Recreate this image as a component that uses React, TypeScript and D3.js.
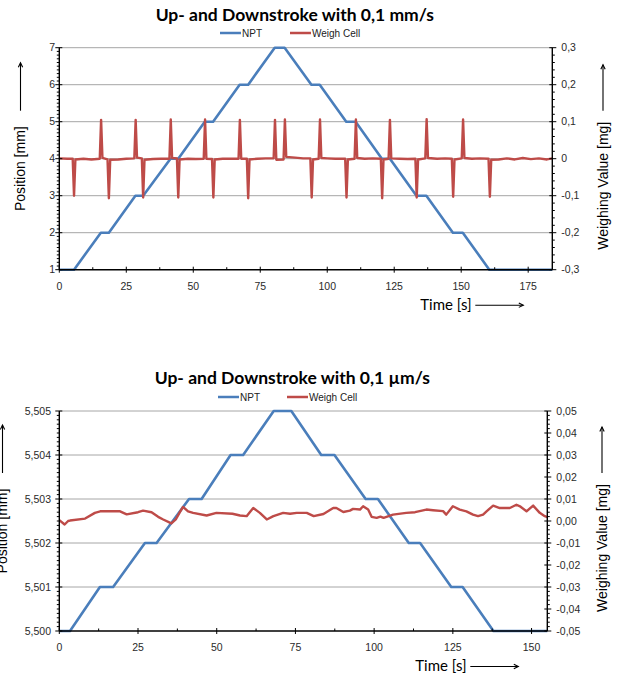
import React from "react";
import * as d3 from "d3";

// ---------- chart 1: 0,1 mm/s ----------
const npt1Time = [0, 5.5, 15.5, 18.5, 28.4, 31.3, 41.5, 44.4, 54.3, 57.4, 67.3, 70.5, 80.4, 84.1, 94.1, 97.2, 107.1, 110.6, 120.4, 123.4, 133.3, 137, 146.9, 150.6, 160.5, 184];
const npt1Pos = [1, 1, 2, 2, 3, 3, 4, 4, 5, 5, 6, 6, 7, 7, 6, 6, 5, 5, 4, 4, 3, 3, 2, 2, 1, 1];

// [time s, weighing value mg]
const weigh1: [number, number][] = [
  [0, 0.001], [3, 0.0], [5.0, 0.0], [5.5, -0.1], [6.0, -0.002], [9, 0.0], [12, -0.002],
  [15.1, 0.0], [15.6, 0.105], [16.1, 0.002], [18.0, -0.002], [18.5, -0.107], [19.0, -0.003],
  [22, -0.002], [25, 0], [28.0, 0.001], [28.5, 0.105], [29.0, 0.003], [30.8, 0.001],
  [31.3, -0.105], [31.8, -0.003], [35, -0.001], [38, 0], [41.1, 0.0], [41.6, 0.106],
  [42.1, 0.002], [43.9, 0.001], [44.4, -0.105], [44.9, -0.002], [48, 0], [51, -0.001],
  [53.9, 0], [54.4, 0.106], [54.9, 0.0], [57.0, -0.001], [57.5, -0.105], [58.0, -0.002],
  [61, 0], [64, 0.0], [66.9, 0.0], [67.4, 0.105], [67.9, 0.0], [70.0, 0], [70.5, -0.107],
  [71.0, -0.002], [74, 0], [77, 0.001], [80.0, 0.001], [80.5, 0.105], [81.0, -0.003],
  [83.7, -0.002], [84.2, 0.106], [84.7, 0.005], [88, 0.003], [91, 0.001], [93.7, 0.001],
  [94.2, -0.105], [94.7, -0.002], [96.8, 0], [97.3, 0.106], [97.8, 0.002], [100, 0.001],
  [103, 0.0], [106.7, 0.0], [107.2, -0.105], [107.7, -0.002], [110.2, 0], [110.7, 0.106],
  [111.2, 0.002], [114, 0], [117, 0.001], [120.0, 0], [120.5, -0.107], [121.0, -0.002],
  [122.9, 0.0], [123.4, 0.105], [123.9, 0.001], [127, 0.0], [130, -0.001], [132.9, 0],
  [133.4, -0.105], [133.9, -0.002], [136.6, 0.001], [137.1, 0.107], [137.6, 0.002],
  [141, 0], [144, 0.001], [146.5, 0], [147.0, -0.103], [147.5, -0.002], [150.2, 0.001],
  [150.7, 0.106], [151.2, 0.002], [154, 0.0], [157, 0.001], [160.2, 0], [160.7, -0.103],
  [161.2, -0.003], [164, -0.002], [167, 0.001], [170, -0.002], [173, 0.002], [176, -0.001],
  [179, 0.001], [182, -0.002], [184, 0.001],
];

const timeTicks1 = [0, 25, 50, 75, 100, 125, 150, 175];
const posTicks1 = [1, 2, 3, 4, 5, 6, 7];
const weighTicks1 = [-0.3, -0.2, -0.1, 0, 0.1, 0.2, 0.3];

// ---------- chart 2: 0,1 µm/s ----------
const npt2Time = [0, 3.4, 12.9, 17.1, 27.2, 30.9, 41.2, 45.2, 54.4, 58.4, 68.1, 73.7, 83.2, 87.4, 97.3, 101.2, 111, 114.6, 124.5, 128.1, 137.9, 155];
const npt2Pos = [5.5, 5.5, 5.501, 5.501, 5.502, 5.502, 5.503, 5.503, 5.504, 5.504, 5.505, 5.505, 5.504, 5.504, 5.503, 5.503, 5.502, 5.502, 5.501, 5.501, 5.5, 5.5];

const weigh2: [number, number][] = [
  [0, 0.0004], [1.7, -0.0016], [2.8, 0.0], [3.4, 0.0002], [8.2, 0.0011], [11.3, 0.0037],
  [13, 0.0044], [19.3, 0.0044], [21.4, 0.003], [25, 0.004], [26.6, 0.0047], [29.3, 0.004],
  [31.4, 0.0019], [33, 0.0007], [35.6, -0.0011], [37, 0.0007], [38.3, 0.004], [39.3, 0.0064],
  [40.9, 0.0044], [42.5, 0.0037], [46.8, 0.0025], [49.9, 0.0037], [55, 0.0033], [57.4, 0.0025],
  [59.5, 0.0022], [60.5, 0.004], [61.6, 0.0059], [63.7, 0.0037], [65.9, 0.0007], [68, 0.0022],
  [71.1, 0.0037], [73.3, 0.0033], [75.4, 0.0037], [78.6, 0.0037], [80.8, 0.0022], [83.9, 0.0032],
  [87, 0.0059], [88, 0.0059], [90.2, 0.0041], [92.3, 0.0047], [93.3, 0.0055], [95.5, 0.0052],
  [96.5, 0.0067], [98.1, 0.0052], [99.2, 0.0019], [100.8, 0.0014], [102, 0.002], [103, 0.0014],
  [106, 0.0029], [110.2, 0.0037], [113, 0.004], [116.6, 0.0052], [118.7, 0.0049], [121.9, 0.0045],
  [122.9, 0.0029], [125, 0.0067], [127.2, 0.0052], [129.3, 0.0044], [131.4, 0.0029], [133, 0.0022],
  [134.6, 0.0029], [135.7, 0.0044], [137.8, 0.007], [139.9, 0.0059], [143.1, 0.0059], [145.2, 0.0074],
  [146.5, 0.0065], [148.4, 0.0044], [150.5, 0.007], [152.6, 0.0037], [154.2, 0.0022], [155, 0.0018],
];

const timeTicks2 = [0, 25, 50, 75, 100, 125, 150];
const posTicks2 = [5.5, 5.501, 5.502, 5.503, 5.504, 5.505];
const weighTicks2 = [-0.05, -0.04, -0.03, -0.02, -0.01, 0, 0.01, 0.02, 0.03, 0.04, 0.05];

const BLUE = "#4A7EBB";
const RED = "#BE4B48";
const ARIAL = "'Liberation Sans', Arial, sans-serif";
const CALIBRI = "Lato, 'Open Sans', sans-serif";

const locale = d3.formatLocale({ decimal: ",", thousands: ".", grouping: [3], currency: ["", ""], minus: "-" });

type ChartProps = {
  title: string;
  titleY: number;
  legendY: number;
  legendX: [number, number];
  left: number;
  right: number;
  top: number;
  bottom: number;
  xMax: number;
  timeTicks: number[];
  nptTime: number[];
  nptPos: number[];
  weigh: [number, number][];
  posTicks: number[];
  weighTicks: number[];
  posMinor: number;
  weighMinor: number;
  posFmt: (v: number) => string;
  weighFmt: (v: number) => string;
  posLabelX: number;
  weighLabelX: number;
  posAxisX: number;
};

function Arrow({ x1, y1, x2, y2 }: { x1: number; y1: number; x2: number; y2: number }) {
  const a = Math.atan2(y2 - y1, x2 - x1);
  const h = 5;
  const p1 = [x2 - h * Math.cos(a - 0.45), y2 - h * Math.sin(a - 0.45)];
  const p2 = [x2 - h * Math.cos(a + 0.45), y2 - h * Math.sin(a + 0.45)];
  return (
    <g stroke="#000" strokeWidth={1.1} fill="none">
      <line x1={x1} y1={y1} x2={x2} y2={y2} />
      <polyline points={`${p1[0]},${p1[1]} ${x2},${y2} ${p2[0]},${p2[1]}`} />
    </g>
  );
}

function Chart(p: ChartProps) {
  const x = d3.scaleLinear().domain([0, p.xMax]).range([p.left, p.right]);
  const yL = d3.scaleLinear().domain(d3.extent(p.posTicks) as [number, number]).range([p.bottom, p.top]);
  const yR = d3.scaleLinear().domain(d3.extent(p.weighTicks) as [number, number]).range([p.bottom, p.top]);

  const nptLine = d3.line<number>().x((_, i) => x(p.nptTime[i])).y((d) => yL(d));
  const weighLine = d3.line<[number, number]>().x((d) => x(d[0])).y((d) => yR(d[1]));

  const posStep = p.posTicks[1] - p.posTicks[0];
  const posMinorTicks: number[] = [];
  for (let i = 0; i < p.posTicks.length - 1; i++)
    for (let k = 1; k < p.posMinor; k++) posMinorTicks.push(p.posTicks[i] + (posStep * k) / p.posMinor);
  const wStep = p.weighTicks[1] - p.weighTicks[0];
  const wMinorTicks: number[] = [];
  for (let i = 0; i < p.weighTicks.length - 1; i++)
    for (let k = 1; k < p.weighMinor; k++) wMinorTicks.push(p.weighTicks[i] + (wStep * k) / p.weighMinor);
  const tStep = p.timeTicks[1] - p.timeTicks[0];
  const tMinor = p.timeTicks.map((t) => t + tStep / 2).filter((t) => t < p.xMax);

  const midY = (p.top + p.bottom) / 2;

  return (
    <g>
      <text x={(p.left + p.right) / 2 - 11} y={p.titleY} textAnchor="middle" fontFamily={CALIBRI} fontWeight="bold" fontSize={17.5}>
        {p.title}
      </text>
      {/* legend */}
      <g fontFamily={ARIAL} fontSize={10} fill="#222">
        <line x1={p.legendX[0]} x2={p.legendX[0] + 21} y1={p.legendY} y2={p.legendY} stroke={BLUE} strokeWidth={2.5} />
        <text x={p.legendX[0] + 22} y={p.legendY + 3.5}>NPT</text>
        <line x1={p.legendX[1]} x2={p.legendX[1] + 21} y1={p.legendY} y2={p.legendY} stroke={RED} strokeWidth={2.5} />
        <text x={p.legendX[1] + 22} y={p.legendY + 3.5}>Weigh Cell</text>
      </g>

      {/* grid */}
      {p.posTicks.slice(1).map((v) => (
        <line key={v} x1={p.left} x2={p.right} y1={yL(v)} y2={yL(v)} stroke="#A6A6A6" strokeWidth={1} />
      ))}

      {/* series */}
      <path d={nptLine(p.nptPos) || ""} fill="none" stroke={BLUE} strokeWidth={2.6} strokeLinejoin="round" />
      <path d={weighLine(p.weigh) || ""} fill="none" stroke={RED} strokeWidth={2.4} strokeLinejoin="round" />

      {/* axes */}
      <g stroke="#000" strokeWidth={1}>
        <line x1={p.left} x2={p.left} y1={p.top} y2={p.bottom} strokeWidth={1.4} />
        <line x1={p.right} x2={p.right} y1={p.top} y2={p.bottom} strokeWidth={1.4} />
        <line x1={p.left} x2={p.right} y1={p.bottom} y2={p.bottom} strokeWidth={1.4} />
        {p.posTicks.map((v) => (
          <line key={"pl" + v} x1={p.left - 4} x2={p.left + 3} y1={yL(v)} y2={yL(v)} />
        ))}
        {posMinorTicks.map((v) => (
          <line key={"pm" + v} x1={p.left - 2.5} x2={p.left} y1={yL(v)} y2={yL(v)} />
        ))}
        {p.weighTicks.map((v) => (
          <line key={"wl" + v} x1={p.right - 3} x2={p.right + 4} y1={yR(v)} y2={yR(v)} />
        ))}
        {wMinorTicks.map((v) => (
          <line key={"wm" + v} x1={p.right} x2={p.right + 2.5} y1={yR(v)} y2={yR(v)} />
        ))}
        {p.timeTicks.map((t) => (
          <line key={"t" + t} x1={x(t)} x2={x(t)} y1={p.bottom - 3} y2={p.bottom + 3} />
        ))}
        {tMinor.map((t) => (
          <line key={"tm" + t} x1={x(t)} x2={x(t)} y1={p.bottom - 2.5} y2={p.bottom} />
        ))}
      </g>

      {/* tick labels */}
      <g fontFamily={ARIAL} fontSize={10.5} fill="#2a2a2a">
        {p.posTicks.map((v) => (
          <text key={"plt" + v} x={p.posAxisX} y={yL(v) + 3.7} textAnchor="end">
            {p.posFmt(v)}
          </text>
        ))}
        {p.weighTicks.map((v) => (
          <text key={"wlt" + v} x={p.right + 9} y={yR(v) + 3.7}>
            {p.weighFmt(v)}
          </text>
        ))}
        {p.timeTicks.map((t) => (
          <text key={"tlt" + t} x={x(t)} y={p.bottom + 20} textAnchor="middle">
            {t}
          </text>
        ))}
      </g>

      {/* axis titles */}
      <text
        transform={`translate(${p.posLabelX},${midY + 10}) rotate(-90)`}
        textAnchor="middle"
        fontFamily={ARIAL}
        fontSize={14}
      >
        Position [mm]
      </text>
      <Arrow x1={p.posLabelX - 4.5} y1={midY - 48} x2={p.posLabelX - 4.5} y2={midY - 96} />
      <text
        transform={`translate(${p.weighLabelX},${midY + 27}) rotate(-90)`}
        textAnchor="middle"
        fontFamily={ARIAL}
        fontSize={14}
      >
        Weighing Value [mg]
      </text>
      <Arrow x1={p.weighLabelX - 5} y1={midY - 48} x2={p.weighLabelX - 5} y2={midY - 94} />
      <text x={p.right - 132} y={p.bottom + 40} fontFamily={CALIBRI} fontSize={15}>
        Time [s]
      </text>
      <Arrow x1={p.right - 77} y1={p.bottom + 35.5} x2={p.right - 29} y2={p.bottom + 35.5} />
    </g>
  );
}

export default function App() {
  return (
    <svg width={618} height={677} style={{ position: "absolute", left: 0, top: 0, background: "#fff" }}>
      <Chart
        title="Up- and Downstroke with 0,1 mm/s"
        titleY={21}
        legendY={33}
        legendX={[220, 290]}
        left={59.3}
        right={552.3}
        top={47.7}
        bottom={269.7}
        xMax={184}
        timeTicks={timeTicks1}
        nptTime={npt1Time}
        nptPos={npt1Pos}
        weigh={weigh1}
        posTicks={posTicks1}
        weighTicks={weighTicks1}
        posMinor={10}
        weighMinor={5}
        posFmt={(v) => String(v)}
        weighFmt={(v) => (v === 0 ? "0" : locale.format(".1f")(v))}
        posLabelX={25}
        weighLabelX={608}
        posAxisX={55}
      />
      <Chart
        title="Up- and Downstroke with 0,1 µm/s"
        titleY={384}
        legendY={397}
        legendX={[218, 287]}
        left={59.3}
        right={547.3}
        top={411}
        bottom={631}
        xMax={155}
        timeTicks={timeTicks2}
        nptTime={npt2Time}
        nptPos={npt2Pos}
        weigh={weigh2}
        posTicks={posTicks2}
        weighTicks={weighTicks2}
        posMinor={10}
        weighMinor={5}
        posFmt={(v) => locale.format(".3f")(v)}
        weighFmt={(v) => locale.format(".2f")(v)}
        posLabelX={7}
        weighLabelX={607}
        posAxisX={51}
      />
    </svg>
  );
}
